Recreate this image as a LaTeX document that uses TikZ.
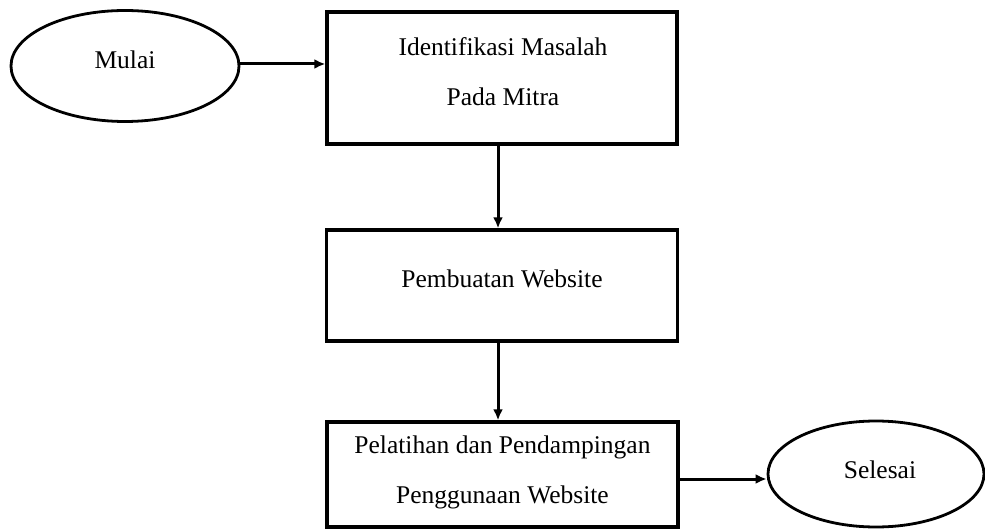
\documentclass[tikz,border=0pt]{standalone}
\usepackage{fontspec}
\setmainfont{Liberation Serif}
\usetikzlibrary{shapes.geometric,arrows.meta}
\begin{document}
\begin{tikzpicture}[x=1pt,y=-1pt,
  txt/.style={font=\fontsize{25.5}{50}\selectfont, align=center},
  stepbox/.style={draw, line width=3.4pt, rectangle, inner sep=0pt, txt},
  term/.style={draw, line width=2.8pt, ellipse, inner sep=0pt, txt},
  flow/.style={line width=3pt, -{Latex[length=11pt,width=10pt]}}
]
\useasboundingbox (0,0) rectangle (985,529);
\node[term, minimum width=228pt, minimum height=111pt] (start) at (125,66) {};
\node[txt] (starttxt) at (125,60) {Mulai};
\node[stepbox, minimum width=350pt, minimum height=132pt] (b1) at (502,78) {};
\node[txt] (b1a) at (503,47) {Identifikasi Masalah};
\node[txt] (b1b) at (503,97) {Pada Mitra};
\node[stepbox, minimum width=351pt, minimum height=111pt] (b2) at (502,285.5) {};
\node[txt] (b2t) at (502,279) {Pembuatan Website};
\node[stepbox, minimum width=351pt, minimum height=105pt] (b3) at (502.5,474.5) {};
\node[txt] (b3a) at (502.5,447) {Pelatihan dan Pendampingan};
\node[txt] (b3b) at (502.5,497) {Penggunaan Website};
\node[term, minimum width=216pt, minimum height=106pt] (end) at (876,474) {};
\node[txt] (endtxt) at (880,470) {Selesai};
\coordinate (s1) at (start.east |- 0,64);
\coordinate (e1) at (b1.west |- 0,64);
\draw[flow] (s1) -- (e1);
\coordinate (a2) at (498,0);
\draw[flow] (b1.south -| a2) -- (b2.north -| a2);
\draw[flow] (b2.south -| a2) -- (b3.north -| a2);
\coordinate (y3) at (0,479);
\draw[flow] (b3.east |- y3) -- (end.west |- y3);
\end{tikzpicture}
\end{document}
